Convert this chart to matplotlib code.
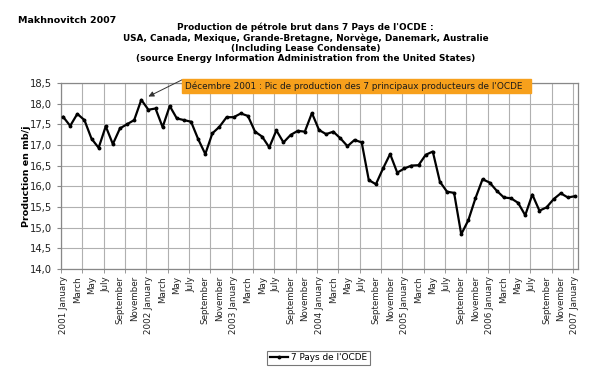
import numpy as np
import matplotlib
matplotlib.use("Agg")
import matplotlib.pyplot as plt
from matplotlib.patches import Rectangle

# monthly production, 2001 January .. 2007 January (mb/j)
values = [
    17.68, 17.46, 17.75, 17.60, 17.15, 16.93, 17.45, 17.02, 17.40, 17.50, 17.60, 18.09,
    17.85, 17.88, 17.43, 17.94, 17.64, 17.60, 17.56, 17.14, 16.78, 17.28, 17.44, 17.67,
    17.67, 17.76, 17.70, 17.32, 17.20, 16.94, 17.35, 17.06, 17.24, 17.34, 17.32, 17.77,
    17.36, 17.26, 17.32, 17.16, 16.97, 17.12, 17.06, 16.15, 16.05, 16.43, 16.78, 16.33,
    16.43, 16.50, 16.51, 16.76, 16.84, 16.11, 15.87, 15.84, 14.84, 15.18, 15.71, 16.17,
    16.09, 15.89, 15.73, 15.71, 15.60, 15.30, 15.80, 15.41, 15.49, 15.69, 15.83, 15.73,
    15.76,
]
years = ["2001", "2002", "2003", "2004", "2005", "2006", "2007"]
months = ["January", "March", "May", "July", "September", "November"]
tick_labels = []
for y in years:
    for m in months:
        tick_labels.append(y + " " + m if m == "January" else m)
        if y == "2007":
            break
yticks = [14.0, 14.5, 15.0, 15.5, 16.0, 16.5, 17.0, 17.5, 18.0, 18.5]

series_name = "7 Pays de l'OCDE"
note = "Décembre 2001 : Pic de production des 7 principaux producteurs de l'OCDE"

plt.rcParams['font.family'] = ['DejaVu Sans']

fig = plt.figure(figsize=(5.99, 3.80), dpi=100)
ax = fig.add_axes([0.102, 0.292, 0.863, 0.490])

x = np.arange(len(values))
line, = ax.plot(x, values, color="black", lw=1.6, marker="o", ms=1.8,
                label=series_name, zorder=3)

ax.set_xlim(-0.28, 72.43)
ax.set_ylim(14.0, 18.5)

ax.set_xticks(np.arange(0, len(values), 2))
ax.set_xticklabels(tick_labels, rotation=90, fontsize=6.3, color="#222222")
ax.tick_params(axis="x", which="major", length=0, pad=5)
ax.set_xticks(np.arange(-0.28, 72.4, 3), minor=True)
ax.tick_params(axis="x", which="minor", length=3, color="#888888")

ax.set_yticks(yticks)
ax.set_yticklabels([("%.1f" % v).replace(".", ",") for v in yticks],
                   fontsize=7.2, color="#222222")
ax.tick_params(axis="y", length=3, color="#888888")

ax.grid(False)
ax.grid(True, axis="x", which="minor", color="#b0b0b0", lw=0.8)
ax.grid(True, axis="y", which="major", color="#b0b0b0", lw=0.8)
for s in ax.spines.values():
    s.set_color("#888888")
    s.set_linewidth(0.9)

ax.set_ylabel("Production en mb/j", fontsize=6.8, fontweight="bold")
ax.yaxis.set_label_coords(-0.058, 0.5)

fig.text(0.03, 0.94, "Makhnovitch 2007", fontsize=6.8, fontweight="bold")
fig.text(0.51, 0.942,
         "Production de pétrole brut dans 7 Pays de l'OCDE :\n"
         "USA, Canada, Mexique, Grande-Bretagne, Norvège, Danemark, Australie\n"
         "(Including Lease Condensate)\n"
         "(source Energy Information Administration from the United States)",
         ha="center", va="top", fontsize=6.4, fontweight="bold", linespacing=1.2)

# orange note box with arrow pointing to the December 2001 peak
fig.patches.append(Rectangle((0.304, 0.755), 0.582, 0.037, transform=fig.transFigure,
                             facecolor="#f7a01c", edgecolor="#f7a01c", zorder=5))
fig.text(0.309, 0.773, note, fontsize=6.4, va="center", ha="left", zorder=6,
         color="#1a1a1a")
ax.annotate("", xy=(11.3, values[11] + 0.02), xycoords="data",
            xytext=(0.304, 0.79), textcoords="figure fraction",
            arrowprops=dict(arrowstyle="-|>", color="#333333", lw=0.7,
                            mutation_scale=8, shrinkA=0, shrinkB=4))

leg = fig.legend(handles=[line], loc="center", bbox_to_anchor=(0.532, 0.058),
                 fontsize=6.4, frameon=True, fancybox=False, handlelength=2.0,
                 borderpad=0.3, handletextpad=0.4)
leg.get_frame().set_edgecolor("#555555")
leg.get_frame().set_linewidth(0.8)

fig.savefig("out.png", dpi=100)
